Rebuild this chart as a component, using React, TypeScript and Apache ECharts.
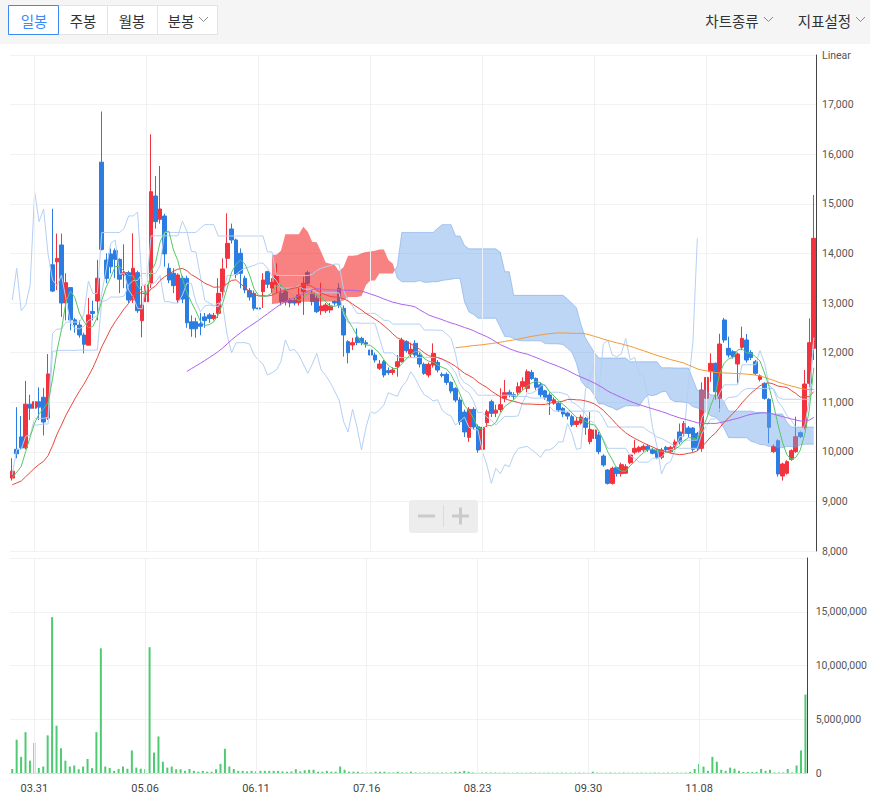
import React, { useEffect, useRef } from 'react';
import * as echarts from 'echarts';

// 20 earlier sessions (not shown, needed for the moving averages and Ichimoku lines) [open, close, low, high]
const PRIOR_OHLC: number[][] = [
  [9300, 9150, 9100, 9350], [9150, 9250, 9120, 9300], [9250, 9300, 9200, 9380], [9300, 9200, 9180, 9350],
  [9200, 9190, 9150, 9260], [9190, 9250, 9180, 9300], [9250, 9400, 9220, 9450], [9400, 9350, 9300, 9450],
  [9350, 9300, 9260, 9400], [9300, 9220, 9190, 9330], [9220, 9260, 9200, 9300], [9260, 9300, 9230, 9350],
  [9300, 9400, 9280, 9450], [9400, 9360, 9320, 9420], [9360, 9300, 9260, 9380], [9300, 9260, 9200, 9320],
  [9260, 9400, 9240, 9450], [9400, 9500, 9380, 9600], [9500, 9450, 9400, 9550], [9450, 9420, 9380, 9500],
];

// visible daily candles [open, close, low, high]
const OHLC: number[][] = [
  [9470, 9610, 9420, 9870], [10050, 9960, 9870, 10900], [10300, 10080, 10050, 10720], [10080, 10960, 10050, 11430],
  [10960, 10880, 10640, 11150], [10880, 11010, 10620, 11970], [11010, 10900, 10640, 11300], [11100, 10600, 10330, 11290],
  [10680, 11570, 10640, 11970], [13770, 13240, 13220, 14900], [13830, 13900, 13260, 14400], [14170, 13000, 12720, 14400],
  [13000, 13410, 12650, 13600], [13310, 12660, 12450, 13320], [12660, 12560, 12400, 12700], [12556, 12355, 12300, 12650],
  [12355, 12167, 11985, 12400], [12150, 12760, 12150, 13100], [12830, 12790, 12650, 13050], [13040, 13500, 12650, 13870],
  [15840, 14080, 14060, 16860], [13866, 13497, 13400, 14000], [13990, 13730, 13600, 14100], [14055, 13880, 13500, 14100],
  [13880, 13480, 13200, 13900], [13565, 13612, 13300, 14183], [13612, 13060, 13000, 13650], [13060, 13700, 13000, 14405],
  [13612, 12845, 12800, 13650], [12644, 12960, 12308, 13340], [13026, 13363, 12900, 13400], [13396, 15245, 13300, 16401],
  [15157, 14640, 14500, 15560], [14687, 14895, 14600, 15762], [14754, 13990, 13733, 14800], [13700, 13463, 13400, 13800],
  [13600, 13350, 13200, 13700], [13060, 13565, 13000, 13600], [13500, 13080, 13000, 13550], [13497, 12600, 12500, 13550],
  [12620, 12480, 12320, 12750], [12620, 12480, 12300, 12700], [12580, 12530, 12350, 12800], [12720, 12644, 12500, 12800],
  [12760, 12690, 12600, 12800], [12690, 12750, 12650, 12800], [12792, 13195, 12700, 13500], [13229, 13686, 13100, 13900],
  [13901, 14203, 13700, 14808], [14492, 14271, 14200, 14600], [14271, 13578, 13500, 14300], [14002, 13599, 13296, 14100],
  [13498, 13263, 13200, 13550], [13250, 13120, 13050, 13300], [13195, 12893, 12850, 13250], [12900, 12880, 12800, 13000],
  [13229, 13464, 12900, 13600], [13632, 13377, 13300, 13650], [13300, 13420, 13200, 13500], [13377, 13552, 13200, 13800],
  [13195, 13027, 12950, 13350], [13228, 13027, 12950, 13300], [13060, 13000, 12913, 13100], [13050, 13000, 12950, 13100],
  [13006, 13161, 12950, 13300], [13230, 13400, 12760, 13530], [13612, 13396, 13350, 13650], [13195, 13027, 12950, 13250],
  [13094, 12825, 12800, 13150], [12845, 12939, 12760, 13410], [12845, 12960, 12800, 13000], [12860, 12940, 12800, 13000],
  [13030, 13000, 12950, 13050], [13296, 12960, 12900, 13400], [12892, 12355, 11918, 12950], [12220, 11998, 11783, 12250],
  [12153, 12200, 12053, 12300], [12301, 12200, 12150, 12489], [12287, 12200, 12150, 12320], [12200, 12173, 12100, 12250],
  [12052, 11951, 11900, 12100], [11950, 11850, 11800, 12000], [11683, 11770, 11650, 11850], [11817, 11548, 11500, 11850],
  [11636, 11595, 11550, 11700], [11600, 11650, 11550, 11700], [11716, 11817, 11515, 11950], [11817, 12254, 11800, 12300],
  [12220, 12039, 12000, 12250], [11972, 12066, 11900, 12200], [12187, 11951, 11900, 12250], [11951, 11770, 11700, 12000],
  [11763, 11582, 11550, 11800], [11548, 11763, 11500, 11800], [11750, 11985, 11700, 12186], [11803, 11649, 11600, 11850],
  [11560, 11540, 11500, 11600], [11562, 11400, 11350, 11600], [11400, 11225, 11180, 11420], [11279, 11044, 11000, 11300],
  [11044, 10607, 10540, 11100], [10800, 10400, 10300, 10850], [10291, 10856, 10200, 10900], [10856, 10500, 10450, 10900],
  [10506, 10036, 9980, 10550], [10050, 10493, 10000, 10550], [10587, 10809, 10500, 10850], [11010, 10775, 10700, 11050],
  [10780, 10840, 10700, 10950], [10850, 10950, 10800, 11280], [11078, 11192, 11000, 11447], [11200, 11150, 11100, 11250],
  [11150, 11120, 11050, 11200], [11200, 11313, 11150, 11400], [11313, 11414, 11250, 11500], [11279, 11615, 11200, 11660],
  [11600, 11480, 11450, 11650], [11480, 11300, 11250, 11500], [11350, 11150, 11100, 11400], [11230, 11100, 11050, 11250],
  [11145, 11024, 10742, 11200], [10980, 11050, 10950, 11100], [10977, 10843, 10800, 11000], [10876, 10762, 10700, 10900],
  [10780, 10720, 10650, 10800], [10708, 10540, 10500, 10750], [10550, 10620, 10500, 10700], [10580, 10700, 10550, 10750],
  [10675, 10493, 10340, 10700], [10204, 10453, 10150, 10800], [10270, 10440, 10250, 10500], [10339, 10003, 9950, 10400],
  [9915, 9734, 9700, 9950], [9633, 9364, 9340, 9650], [9364, 9666, 9340, 9700], [9680, 9560, 9500, 9700],
  [9560, 9740, 9500, 9780], [9570, 9700, 9550, 9750], [9780, 9935, 9750, 9950], [9990, 10070, 9950, 10240],
  [10010, 10090, 9980, 10120], [10040, 10110, 10000, 10150], [10110, 10040, 10000, 10150], [10040, 9970, 9950, 10080],
  [10036, 9888, 9850, 10050], [9888, 10036, 9850, 10080], [10090, 10040, 10000, 10120], [10000, 10090, 9980, 10120],
  [10090, 10200, 10050, 10250], [10400, 10200, 10150, 10570], [10370, 10570, 10300, 10620], [10480, 10370, 10300, 10520],
  [10480, 10050, 10000, 10500], [10372, 10070, 10020, 10400], [10070, 11246, 10000, 11400], [11078, 11500, 11000, 11700],
  [11616, 11784, 11414, 11985], [11784, 11212, 11050, 11800], [11078, 12173, 10809, 12380], [12657, 12254, 12200, 12700],
  [12086, 11951, 11900, 12321], [12019, 11918, 11880, 12050], [11770, 11972, 11380, 12000], [12106, 12287, 12050, 12523],
  [12254, 11851, 11800, 12374], [12000, 11900, 11850, 12050], [11817, 11582, 11550, 11850], [11460, 11530, 11420, 11560],
  [11380, 11078, 11050, 11400], [11058, 10493, 10171, 11080], [10003, 10104, 9980, 10150], [10224, 9553, 9500, 10250],
  [9513, 9754, 9420, 9780], [9566, 9801, 9540, 9830], [9848, 10023, 9820, 10050], [10003, 10305, 9980, 10708],
  [10386, 10305, 10280, 10420], [10493, 11367, 10450, 11649], [11380, 12200, 11300, 12691], [12086, 14304, 11851, 15177],
];

// traded shares per session
const VOLUME: number[] = [
  370000, 3100000, 1500000, 3800000, 1150000, 2800000, 470000, 600000, 3500000, 14500000,
  4400000, 2300000, 1150000, 600000, 700000, 350000, 600000, 1300000, 450000, 3800000,
  11600000, 600000, 470000, 200000, 370000, 600000, 400000, 2100000, 500000, 400000,
  350000, 11700000, 1900000, 3400000, 1050000, 500000, 600000, 350000, 350000, 200000,
  370000, 200000, 120000, 200000, 120000, 120000, 350000, 850000, 2250000, 600000,
  370000, 200000, 200000, 150000, 200000, 150000, 200000, 200000, 200000, 200000,
  200000, 150000, 120000, 150000, 350000, 150000, 250000, 300000, 300000, 120000,
  120000, 200000, 120000, 120000, 600000, 300000, 120000, 120000, 120000, 50000,
  50000, 50000, 120000, 120000, 120000, 50000, 50000, 120000, 50000, 50000,
  120000, 50000, 40000, 40000, 50000, 40000, 40000, 50000, 40000, 50000,
  120000, 120000, 200000, 120000, 50000, 40000, 40000, 50000, 40000, 40000,
  30000, 40000, 30000, 30000, 40000, 30000, 30000, 40000, 30000, 30000,
  30000, 40000, 30000, 30000, 40000, 30000, 30000, 30000, 40000, 30000,
  30000, 120000, 40000, 30000, 30000, 40000, 30000, 30000, 40000, 30000,
  30000, 30000, 40000, 30000, 30000, 40000, 30000, 30000, 40000, 30000,
  40000, 30000, 40000, 100000, 370000, 850000, 600000, 200000, 1500000, 1050000,
  300000, 200000, 500000, 400000, 200000, 100000, 100000, 100000, 100000, 370000,
  200000, 300000, 50000, 50000, 50000, 370000, 50000, 700000, 2100000, 7300000,
];

const FIRST_DAY = '2021-03-24';
const HOLIDAYS = ['2021-05-05', '2021-05-19', '2021-08-16', '2021-09-20', '2021-09-21', '2021-09-22', '2021-10-04', '2021-10-11'];
const LABEL_EVERY = 25;
const LABEL_OFFSET = 5;

function tradingDays(start: string, n: number): string[] {
  const out: string[] = [];
  const d = new Date(start + 'T00:00:00Z');
  while (out.length < n) {
    const wd = d.getUTCDay();
    const s = d.toISOString().slice(0, 10);
    if (wd !== 0 && wd !== 6 && !HOLIDAYS.includes(s)) out.push(s);
    d.setUTCDate(d.getUTCDate() + 1);
  }
  return out;
}

const CATEGORIES = tradingDays(FIRST_DAY, OHLC.length);
const TICK_CATS = CATEGORIES.filter((_, i) => i % LABEL_EVERY === LABEL_OFFSET);

const ALL = [...PRIOR_OHLC, ...OHLC];
const P = PRIOR_OHLC.length;
const N = OHLC.length;
const CLOSES = ALL.map((d) => d[1]);

function sma(period: number): (number | null)[] {
  const res: (number | null)[] = [];
  for (let i = 0; i < N; i++) {
    const k = P + i;
    if (k < period - 1) { res.push(null); continue; }
    let s = 0;
    for (let j = k - period + 1; j <= k; j++) s += CLOSES[j];
    res.push(s / period);
  }
  return res;
}

function midAt(k: number, period: number): number | null {
  if (k - period + 1 < 0 || k >= ALL.length) return null;
  let hi = -Infinity, lo = Infinity;
  for (let j = k - period + 1; j <= k; j++) {
    hi = Math.max(hi, ALL[j][3]);
    lo = Math.min(lo, ALL[j][2]);
  }
  return (hi + lo) / 2;
}

const SPAN_SHIFT = 27;
const LAG_SHIFT = 26;
const TENKAN: (number | null)[] = [];
const KIJUN: (number | null)[] = [];
const SPAN_A: (number | null)[] = [];
const SPAN_B: (number | null)[] = [];
const CHIKOU: (number | null)[] = [];
for (let i = 0; i < N; i++) {
  const k = P + i;
  TENKAN.push(midAt(k, 9));
  KIJUN.push(midAt(k, 26));
  const t = midAt(k - SPAN_SHIFT, 9);
  const kj = midAt(k - SPAN_SHIFT, 26);
  SPAN_A.push(t != null && kj != null ? (t + kj) / 2 : null);
  SPAN_B.push(midAt(k - SPAN_SHIFT, 52));
  CHIKOU.push(i + LAG_SHIFT < N ? OHLC[i + LAG_SHIFT][1] : null);
}

const MA5 = sma(5);
const MA20 = sma(20);
const MA60 = sma(60);
const MA120 = sma(120);

const UP = '#f2333f';
const DOWN = '#2b7de1';
const CLOUD_RED = 'rgba(243,45,45,0.6)';
const CLOUD_BLUE = 'rgba(110,163,233,0.45)';
const ICHI = '#b5d0f3';
const FONT_KR = '"Noto Sans CJK KR", "Noto Sans", sans-serif';

function lineSeries(name: string, data: (number | null)[], color: string, z: number, extra: any = {}) {
  return {
    name, type: 'line', data, xAxisIndex: 0, yAxisIndex: 0, symbol: 'none', showSymbol: false,
    lineStyle: { color, width: 1 }, itemStyle: { color }, z, silent: true, ...extra,
  };
}

function chevron(x: number, y: number) {
  return { type: 'polyline', shape: { points: [[x, y], [x + 4.5, y + 4.5], [x + 9, y]] }, style: { stroke: '#8a8a8a', lineWidth: 1, fill: 'none' }, silent: true };
}

function btnText(text: string, x: number, color: string) {
  return { type: 'text', x, y: 20, style: { text, fill: color, font: `14.5px ${FONT_KR}`, textAlign: 'center', textVerticalAlign: 'middle' }, silent: true };
}

export default function App() {
  const ref = useRef<HTMLDivElement>(null);
  useEffect(() => {
    if (!ref.current) return;
    const chart = echarts.init(ref.current, undefined, { renderer: 'svg' });
    const vLines = {
      silent: true, symbol: ['none', 'none'], label: { show: false },
      lineStyle: { color: '#eef0f3', width: 1, type: 'solid' },
      data: TICK_CATS.map((c) => ({ xAxis: c })),
    };
    const option: any = {
      animation: false,
      backgroundColor: '#ffffff',
      grid: [
        { left: 10, right: 54, top: 55, height: 496 },
        { left: 10, right: 54, top: 558, height: 215 },
      ],
      xAxis: [
        {
          type: 'category', gridIndex: 0, data: CATEGORIES, boundaryGap: true,
          axisLine: { show: false }, axisTick: { show: false }, axisLabel: { show: false }, splitLine: { show: false },
        },
        {
          type: 'category', gridIndex: 1, data: CATEGORIES, boundaryGap: true,
          axisLine: { show: true, lineStyle: { color: '#dcdcdc' } }, axisTick: { show: false },
          axisLabel: {
            interval: (i: number) => i % LABEL_EVERY === LABEL_OFFSET,
            formatter: (v: string) => v.slice(5, 7) + '.' + v.slice(8, 10),
            color: '#444', fontSize: 11, fontFamily: 'Roboto', margin: 10,
          },
          splitLine: { show: false },
        },
      ],
      yAxis: [
        {
          type: 'value', gridIndex: 0, position: 'right', min: 8000, max: 18000, interval: 1000,
          axisLine: { show: true, lineStyle: { color: '#444' } }, axisTick: { show: false },
          axisLabel: {
            formatter: (v: number) => (v === 18000 ? 'Linear' : v.toLocaleString('en-US')),
            color: '#555', fontSize: 10.5, fontFamily: 'Roboto', margin: 6,
          },
          splitLine: { lineStyle: { color: '#f1f2f4' } },
        },
        {
          type: 'value', gridIndex: 1, position: 'right', min: 0, max: 20000000, interval: 5000000,
          axisLine: { show: true, lineStyle: { color: '#444' } }, axisTick: { show: false },
          axisLabel: {
            formatter: (v: number) => (v === 20000000 ? '' : v.toLocaleString('en-US')),
            color: '#555', fontSize: 10.5, fontFamily: 'Roboto', margin: 8,
          },
          splitLine: { lineStyle: { color: '#f1f2f4' } },
        },
      ],
      series: [
        {
          name: 'grid', type: 'line', xAxisIndex: 0, yAxisIndex: 0, data: [], z: 0, silent: true, markLine: vLines,
        },
        {
          name: 'grid2', type: 'line', xAxisIndex: 1, yAxisIndex: 1, data: [], z: 0, silent: true, markLine: vLines,
        },
        {
          name: '일봉', type: 'candlestick', xAxisIndex: 0, yAxisIndex: 0, data: OHLC, barWidth: '94%', z: 2,
          itemStyle: { color: UP, color0: DOWN, borderColor: UP, borderColor0: DOWN, borderWidth: 1 },
        },
        {
          name: 'cloud', type: 'custom', coordinateSystem: 'cartesian2d', xAxisIndex: 0, yAxisIndex: 0,
          data: [[0, 10000]], encode: { x: 0, y: 1 }, z: 3, silent: true, clip: true,
          renderItem: (params: any, api: any) => {
            const runs: any[] = [];
            let cur: any = null;
            let prev: any = null;
            for (let i = 0; i < N; i++) {
              const a = SPAN_A[i], b = SPAN_B[i];
              if (a == null || b == null) { if (cur) { runs.push(cur); cur = null; } prev = null; continue; }
              const pa = api.coord([i, a]);
              const pb = api.coord([i, b]);
              const up = a >= b;
              if (!cur) { cur = { up, A: [pa], B: [pb] }; prev = { a, b, pa }; continue; }
              if (up !== cur.up) {
                const d0 = prev.a - prev.b, d1 = a - b;
                const t = d0 / (d0 - d1);
                const px = prev.pa[0] + t * (pa[0] - prev.pa[0]);
                const py = prev.pa[1] + t * (pa[1] - prev.pa[1]);
                cur.A.push([px, py]); cur.B.push([px, py]);
                runs.push(cur);
                cur = { up, A: [[px, py], pa], B: [[px, py], pb] };
              } else {
                cur.A.push(pa); cur.B.push(pb);
              }
              prev = { a, b, pa };
            }
            if (cur) runs.push(cur);
            const children: any[] = [];
            runs.forEach((r) => {
              children.push({
                type: 'polygon', shape: { points: [...r.A, ...r.B.slice().reverse()] },
                style: { fill: r.up ? CLOUD_RED : CLOUD_BLUE },
              });
              if (!r.up) {
                children.push({ type: 'polyline', shape: { points: r.A }, style: { stroke: 'rgba(95,150,225,0.45)', lineWidth: 1, fill: 'none' } });
                children.push({ type: 'polyline', shape: { points: r.B }, style: { stroke: 'rgba(95,150,225,0.45)', lineWidth: 1, fill: 'none' } });
              }
            });
            return { type: 'group', children };
          },
        },
        lineSeries('전환선', TENKAN, ICHI, 4),
        lineSeries('기준선', KIJUN, ICHI, 4),
        lineSeries('후행스팬', CHIKOU, ICHI, 4),
        lineSeries('120', MA120, '#f39a34', 5),
        lineSeries('60', MA60, '#ad62f0', 5),
        lineSeries('20', MA20, '#e9483c', 5),
        lineSeries('5', MA5, '#54c962', 6),
        {
          name: '거래량', type: 'bar', xAxisIndex: 1, yAxisIndex: 1, data: VOLUME, barWidth: 2,
          itemStyle: { color: '#4ecb72' }, z: 2, silent: true,
        },
      ],
      graphic: [
        { type: 'rect', shape: { x: 0, y: 0, width: 870, height: 44 }, style: { fill: '#f5f5f5' }, silent: true, z: 0 },
        { type: 'rect', shape: { x: 8.5, y: 5.5, width: 209, height: 29 }, style: { fill: '#ffffff', stroke: '#e3e3e3', lineWidth: 1 }, silent: true },
        { type: 'line', shape: { x1: 107.5, y1: 5.5, x2: 107.5, y2: 34.5 }, style: { stroke: '#e3e3e3', lineWidth: 1 }, silent: true },
        { type: 'line', shape: { x1: 157.5, y1: 5.5, x2: 157.5, y2: 34.5 }, style: { stroke: '#e3e3e3', lineWidth: 1 }, silent: true },
        { type: 'rect', shape: { x: 8.5, y: 5.5, width: 50, height: 29 }, style: { fill: '#ffffff', stroke: '#3d8af7', lineWidth: 1 }, silent: true },
        btnText('일봉', 34, '#3d8af7'),
        btnText('주봉', 83, '#333333'),
        btnText('월봉', 132, '#333333'),
        btnText('분봉', 181, '#333333'),
        chevron(199, 17),
        btnText('차트종류', 732, '#333333'),
        chevron(764, 17),
        btnText('지표설정', 824.5, '#333333'),
        chevron(856, 17),
        { type: 'rect', shape: { x: 409, y: 500, width: 69, height: 33, r: 3 }, style: { fill: '#ededed' }, silent: true, z: 10 },
        { type: 'rect', shape: { x: 418, y: 514.5, width: 17, height: 3 }, style: { fill: '#cacaca' }, silent: true, z: 11 },
        { type: 'line', shape: { x1: 443.5, y1: 505, x2: 443.5, y2: 527 }, style: { stroke: '#dadada', lineWidth: 1 }, silent: true, z: 11 },
        { type: 'rect', shape: { x: 452, y: 514.5, width: 17, height: 3 }, style: { fill: '#cacaca' }, silent: true, z: 11 },
        { type: 'rect', shape: { x: 459, y: 507.5, width: 3, height: 17 }, style: { fill: '#cacaca' }, silent: true, z: 11 },
      ],
    };
    chart.setOption(option);
    return () => chart.dispose();
  }, []);
  return (
    <div
      ref={ref}
      style={{ position: 'fixed', left: 0, top: 0, width: 870, height: 803, background: '#fff' }}
    />
  );
}
